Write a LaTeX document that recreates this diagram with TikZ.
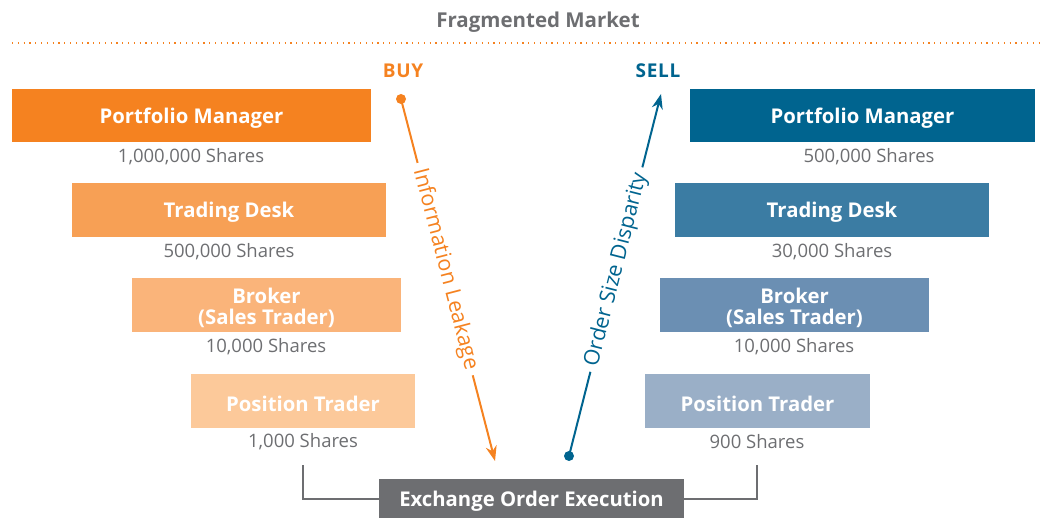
\documentclass[tikz,border=0pt]{standalone}
\usepackage{fontspec}
\setmainfont{Open Sans}
\newfontfamily\sidefont[LetterSpace=4]{Open Sans}
\usetikzlibrary{arrows.meta}
\definecolor{orA}{HTML}{F58220}
\definecolor{orB}{HTML}{F7A055}
\definecolor{orC}{HTML}{FAB47A}
\definecolor{orD}{HTML}{FCC99A}
\definecolor{blA}{HTML}{00648F}
\definecolor{blB}{HTML}{3B7CA3}
\definecolor{blC}{HTML}{6B8FB3}
\definecolor{blD}{HTML}{9AAFC7}
\definecolor{grT}{HTML}{6D6E71}
\begin{document}
\begin{tikzpicture}[x=1pt,y=-1pt,
  box/.style={rectangle, inner sep=0pt},
  boxtext/.style={inner sep=0pt, text=white, font=\fontsize{20.3}{21}\selectfont\bfseries, align=center, yshift=-2.5pt},
  shares/.style={text=grT, font=\fontsize{18.5}{20}\selectfont, inner sep=0pt},
  side/.style={font=\sidefont\fontsize{19}{20}\selectfont\bfseries, inner sep=0pt},
  flow/.style={line width=2pt, -{Stealth[length=15pt,width=11pt]}},
  flowtext/.style={sloped, fill=white, inner sep=6pt, font=\fontsize{21.5}{22}\selectfont}
]
\useasboundingbox (0,0) rectangle (1048,518);
% title
\node[text=grT, font=\fontsize{20.5}{22}\selectfont\bfseries, inner sep=0pt] (title) at (538,22) {Fragmented Market};
\coordinate (dotL) at (12,43);
\coordinate (dotR) at (1042,43);
\draw[orA, line width=2.2pt, dash pattern=on 1.2pt off 4.6pt] (dotL) -- (dotR);
\node[side, text=orA] (buy) at (403,71) {BUY};
\node[side, text=blA] (sell) at (658,71) {SELL};
% left column
\node[box, fill=orA, minimum width=359pt, minimum height=53pt] (pmL) at (191.5,115.5) {};
\node[boxtext] (pmLt) at (pmL) {Portfolio Manager};
\node[shares] (sL1) at (191,157) {1,000,000 Shares};
\node[box, fill=orB, minimum width=314pt, minimum height=54pt] (tdL) at (229,210) {};
\node[boxtext] (tdLt) at (tdL) {Trading Desk};
\node[shares] (sL2) at (229,252) {500,000 Shares};
\node[box, fill=orC, minimum width=269pt, minimum height=54pt] (brL) at (266.5,305) {};
\node[boxtext] (brLt) at (brL) {Broker\\(Sales Trader)};
\node[shares] (sL3) at (266,347) {10,000 Shares};
\node[box, fill=orD, minimum width=224pt, minimum height=54pt] (ptL) at (303,401) {};
\node[boxtext] (ptLt) at (ptL) {Position Trader};
\node[shares] (sL4) at (303,442) {1,000 Shares};
% right column
\node[box, fill=blA, minimum width=345pt, minimum height=53pt] (pmR) at (862.5,115.5) {};
\node[boxtext] (pmRt) at (pmR) {Portfolio Manager};
\node[shares] (sR1) at (869,157) {500,000 Shares};
\node[box, fill=blB, minimum width=314pt, minimum height=54pt] (tdR) at (832,210) {};
\node[boxtext] (tdRt) at (tdR) {Trading Desk};
\node[shares] (sR2) at (832,252) {30,000 Shares};
\node[box, fill=blC, minimum width=269pt, minimum height=54pt] (brR) at (794.5,305) {};
\node[boxtext] (brRt) at (brR) {Broker\\(Sales Trader)};
\node[shares] (sR3) at (794,347) {10,000 Shares};
\node[box, fill=blD, minimum width=225pt, minimum height=54pt] (ptR) at (757.5,401) {};
\node[boxtext] (ptRt) at (ptR) {Position Trader};
\node[shares] (sR4) at (757,442) {900 Shares};
% exchange
\node[box, fill=grT, minimum width=305pt, minimum height=40pt] (ex) at (531.5,499) {};
\node[boxtext] (ext) at (ex) {Exchange Order Execution};
\coordinate (brkL) at (303,465);
\coordinate (brkR) at (757,465);
\draw[grT, line width=2pt] (brkL) |- (ex.west);
\draw[grT, line width=2pt] (brkR) |- (ex.east);
% arrows
\coordinate (buyS) at (401,99);
\coordinate (buyE) at (495,461);
\fill[orA] (buyS) circle (5pt);
\draw[orA, flow] (buyS) -- node[flowtext, text=orA, pos=0.47] (infoL) {Information Leakage} (buyE);
\coordinate (sellS) at (569,456);
\coordinate (sellE) at (661,94);
\fill[blA] (sellS) circle (5pt);
\draw[blA, flow] (sellS) -- node[flowtext, text=blA, pos=0.515] (osd) {Order Size Disparity} (sellE);
\end{tikzpicture}
\end{document}
